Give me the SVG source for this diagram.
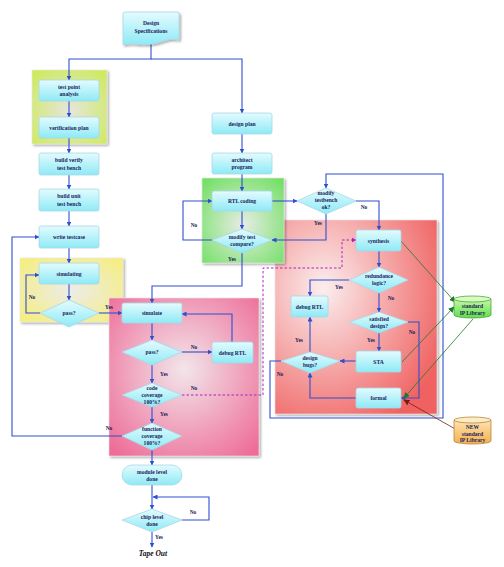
<svg xmlns="http://www.w3.org/2000/svg" width="504" height="567" viewBox="0 0 504 567">
<defs>
<linearGradient id="box" x1="0" y1="0" x2="0" y2="1"><stop offset="0" stop-color="#e4fbfe"/><stop offset="1" stop-color="#8eeaf6"/></linearGradient>
<radialGradient id="rLime" cx="0.5" cy="0.55" r="0.7"><stop offset="0" stop-color="#e6e6dc"/><stop offset="1" stop-color="#cdea5a"/></radialGradient>
<radialGradient id="rYellow" cx="0.5" cy="0.5" r="0.7"><stop offset="0" stop-color="#ececea"/><stop offset="1" stop-color="#f6ee78"/></radialGradient>
<radialGradient id="rGreen" cx="0.5" cy="0.55" r="0.7"><stop offset="0" stop-color="#e8ece6"/><stop offset="1" stop-color="#72e064"/></radialGradient>
<radialGradient id="rPink" cx="0.5" cy="0.45" r="0.7"><stop offset="0" stop-color="#f2e6ea"/><stop offset="1" stop-color="#ee6c98"/></radialGradient>
<radialGradient id="rRed" cx="0.3" cy="0.35" r="0.8"><stop offset="0" stop-color="#fbeeee"/><stop offset="1" stop-color="#f06262"/></radialGradient>
<linearGradient id="cylG" x1="0" y1="0" x2="0" y2="1"><stop offset="0" stop-color="#c8f8a8"/><stop offset="1" stop-color="#5ee04a"/></linearGradient>
<linearGradient id="cylO" x1="0" y1="0" x2="0" y2="1"><stop offset="0" stop-color="#fde3b0"/><stop offset="1" stop-color="#f4b050"/></linearGradient>
<filter id="sh" x="-10%" y="-10%" width="130%" height="130%"><feDropShadow dx="1.5" dy="1.5" stdDeviation="1.2" flood-color="#000" flood-opacity="0.35"/></filter>
<marker id="ab" viewBox="0 0 10 10" refX="9" refY="5" markerWidth="5" markerHeight="5" markerUnits="userSpaceOnUse" orient="auto"><path d="M0,0 L10,5 L0,10 Z" fill="#2f4fd0"/></marker>
<marker id="ag" viewBox="0 0 10 10" refX="9" refY="5" markerWidth="6" markerHeight="6" markerUnits="userSpaceOnUse" orient="auto"><path d="M0,0 L10,5 L0,10 Z" fill="#1e7a2a"/></marker>
<marker id="ar" viewBox="0 0 10 10" refX="9" refY="5" markerWidth="6" markerHeight="6" markerUnits="userSpaceOnUse" orient="auto"><path d="M0,0 L10,5 L0,10 Z" fill="#7a1a10"/></marker>
<marker id="ap" viewBox="0 0 10 10" refX="9" refY="5" markerWidth="5" markerHeight="5" markerUnits="userSpaceOnUse" orient="auto"><path d="M0,0 L10,5 L0,10 Z" fill="#b020c0"/></marker>
<style>
.b{fill:url(#box);stroke:#a6d8e6;stroke-width:0.8}
.t{font-family:"Liberation Serif",serif;font-weight:bold;font-size:5.6px;fill:#1a1a5a;text-anchor:middle}
.l{font-family:"Liberation Serif",serif;font-weight:bold;font-size:5.4px;fill:#1a1a5a;text-anchor:middle}
.c{fill:none;stroke:#2f4fd0;stroke-width:1.1;marker-end:url(#ab)}
.reg{stroke:#e8e8e8;stroke-width:0.6;filter:url(#sh)}
</style>
</defs>
<rect width="504" height="567" fill="#ffffff"/>

<g id="regions">
<rect class="reg" x="32" y="70" width="75" height="74" fill="url(#rLime)"/>
<rect class="reg" x="20" y="258" width="103" height="64" fill="url(#rYellow)"/>
<rect class="reg" x="275" y="220" width="162" height="194" fill="url(#rRed)"/>
<rect class="reg" x="202" y="178" width="82" height="85" fill="url(#rGreen)"/>
<rect class="reg" x="109" y="298" width="150" height="158" fill="url(#rPink)"/>
</g>

<g id="connectors">
<path class="c" d="M151,44 V59 H69 V80"/>
<path class="c" d="M151,59 H242 V113"/>
<path class="c" d="M69,101 V117"/>
<path class="c" d="M69,138 V153"/>
<path class="c" d="M69,175 V189"/>
<path class="c" d="M69,211 V226"/>
<path class="c" d="M69,248 V263"/>
<path class="c" d="M69,284 V300"/>
<path class="c" d="M40,313 H26 V275 H39"/>
<path class="c" d="M99,313 H122"/>
<path class="c" d="M122,436 H12 V237 H39"/>
<path class="c" d="M242,134 V153"/>
<path class="c" d="M242,174 V191"/>
<path class="c" d="M242,211 V229"/>
<path class="c" d="M212,240 H183 V201 H212"/>
<path class="c" d="M242,253 V286 H152 V303"/>
<path class="c" d="M272,201 H297"/>
<path class="c" d="M326,214 V240 H272"/>
<path class="c" d="M356,201 H379 V230"/>
<path class="c" d="M281,361 H270 V418 H443 V174 H326 V188"/>
<path class="c" d="M379,251 V267"/>
<path class="c" d="M349,280 H310 V296"/>
<path class="c" d="M379,293 V312"/>
<path class="c" d="M379,333 V351"/>
<path class="c" d="M408,322 H419 V398 H401"/>
<path class="c" d="M356,361 H340"/>
<path class="c" d="M310,352 V317"/>
<path class="c" d="M356,398 H310 V373"/>
<path class="c" d="M152,323 V340"/>
<path class="c" d="M182,352 H212"/>
<path class="c" d="M232,342 V314 H182"/>
<path class="c" d="M152,365 V383"/>
<path class="c" d="M152,407 V423"/>
<path class="c" d="M152,450 V465"/>
<path class="c" d="M152,485 V509"/>
<path class="c" d="M182,520 H209 V497 H153"/>
<path class="c" d="M152,532 V547"/>
<path d="M182,395 H263 V268 H342 V240 H356" fill="none" stroke="#b020c0" stroke-width="1" stroke-dasharray="2.5,2" marker-end="url(#ap)"/>
<path d="M401,241 L455,302" fill="none" stroke="#1e7a2a" stroke-width="0.8" marker-end="url(#ag)"/>
<path d="M402,362 L454,307" fill="none" stroke="#1e7a2a" stroke-width="0.8" marker-end="url(#ag)"/>
<path d="M473,319 L404,398" fill="none" stroke="#1e7a2a" stroke-width="0.8" marker-end="url(#ag)"/>
<path d="M457,430 L404,400" fill="none" stroke="#7a1a10" stroke-width="0.8" marker-end="url(#ar)"/>
</g>

<g id="labels">
<text class="l" x="109" y="309">Yes</text>
<text class="l" x="32" y="299">No</text>
<text class="l" x="194" y="227">No</text>
<text class="l" x="232" y="261">Yes</text>
<text class="l" x="318" y="225">Yes</text>
<text class="l" x="364" y="209">No</text>
<text class="l" x="339" y="289">Yes</text>
<text class="l" x="391" y="300">No</text>
<text class="l" x="371" y="342">Yes</text>
<text class="l" x="412" y="334">No</text>
<text class="l" x="299" y="342">Yes</text>
<text class="l" x="280" y="376">No</text>
<text class="l" x="194" y="349">No</text>
<text class="l" x="164" y="376">Yes</text>
<text class="l" x="194" y="390">No</text>
<text class="l" x="164" y="416">Yes</text>
<text class="l" x="109" y="430">No</text>
<text class="l" x="193" y="514">No</text>
<text class="l" x="159" y="539">Yes</text>
</g>

<g id="n-spec"><path class="b" d="M125,12 H177 Q179,12 179,14 V40 C168,37 162,43 151,44 C140,46 132,42 123,45 V14 Q123,12 125,12 Z" filter="url(#sh)"/><text class="t" x="151" y="25">Design</text><text class="t" x="151" y="33">Specifications</text></g>
<g id="n-tpa"><rect class="b" x="39" y="80" width="60" height="21" rx="2"/><text class="t" x="69" y="89">test point</text><text class="t" x="69" y="96">analysis</text></g>
<g id="n-vp"><rect class="b" x="39" y="117" width="60" height="21" rx="2"/><text class="t" x="69" y="129.5">verification plan</text></g>
<g id="n-bvt"><rect class="b" x="39" y="153" width="60" height="22" rx="2"/><text class="t" x="69" y="162">build verify</text><text class="t" x="69" y="169.5">test bench</text></g>
<g id="n-but"><rect class="b" x="39" y="189" width="60" height="22" rx="2"/><text class="t" x="69" y="198">build unit</text><text class="t" x="69" y="205.5">test bench</text></g>
<g id="n-wtc"><rect class="b" x="39" y="226" width="60" height="22" rx="2"/><text class="t" x="69" y="239">write testcase</text></g>
<g id="n-siming"><rect class="b" x="39" y="263" width="60" height="21" rx="2"/><text class="t" x="69" y="275.5">simulating</text></g>
<g id="n-pass1"><path class="b" d="M69,300 L99,313 L69,327 L40,313 Z"/><text class="t" x="69" y="315">pass?</text></g>

<g id="n-dp"><rect class="b" x="212" y="113" width="60" height="21" rx="2"/><text class="t" x="242" y="125.5">design plan</text></g>
<g id="n-ap"><rect class="b" x="212" y="153" width="60" height="21" rx="2"/><text class="t" x="242" y="161.5">architect</text><text class="t" x="242" y="169">program</text></g>
<g id="n-rtl"><rect class="b" x="212" y="191" width="60" height="20" rx="2"/><text class="t" x="242" y="203">RTL coding</text></g>
<g id="n-mtc"><path class="b" d="M242,229 L272,240 L242,253 L212,240 Z"/><text class="t" x="242" y="238.5">modify test</text><text class="t" x="242" y="245.5">compare?</text></g>
<g id="n-mtb"><path class="b" d="M326,188 L356,201 L326,214 L297,201 Z"/><text class="t" x="326" y="195">modify</text><text class="t" x="326" y="202">testbench</text><text class="t" x="326" y="209">ok?</text></g>

<g id="n-syn"><rect class="b" x="356" y="230" width="45" height="21" rx="2"/><text class="t" x="378.5" y="242.5">synthesis</text></g>
<g id="n-red"><path class="b" d="M379,267 L408,280 L379,293 L349,280 Z"/><text class="t" x="379" y="278">redundance</text><text class="t" x="379" y="285">logic?</text></g>
<g id="n-dbg2"><rect class="b" x="291" y="296" width="37" height="21" rx="2"/><text class="t" x="309.5" y="308.5">debug RTL</text></g>
<g id="n-sat"><path class="b" d="M379,312 L408,322 L379,333 L349,322 Z"/><text class="t" x="379" y="320.5">satisfied</text><text class="t" x="379" y="327.5">design?</text></g>
<g id="n-sta"><rect class="b" x="356" y="351" width="45" height="21" rx="2"/><text class="t" x="378.5" y="363.5">STA</text></g>
<g id="n-bugs"><path class="b" d="M310,352 L340,361 L310,373 L281,361 Z"/><text class="t" x="310" y="359.5">design</text><text class="t" x="310" y="366.5">bugs?</text></g>
<g id="n-formal"><rect class="b" x="356" y="388" width="45" height="20" rx="2"/><text class="t" x="378.5" y="400">formal</text></g>

<g id="n-lib1"><path d="M454,299 V315 A18.5,3 0 0 0 491,315 V299 Z" fill="url(#cylG)" stroke="#3a9a30" stroke-width="0.7"/><ellipse cx="472.5" cy="299" rx="18.5" ry="3" fill="#d8fcc0" stroke="#3a9a30" stroke-width="0.7"/><text class="t" x="472.5" y="307.5">standard</text><text class="t" x="472.5" y="314.5">IP Library</text></g>
<g id="n-lib2"><path d="M454,420 V441 A18.5,3 0 0 0 491,441 V420 Z" fill="url(#cylO)" stroke="#b07a2a" stroke-width="0.7"/><ellipse cx="472.5" cy="420" rx="18.5" ry="3" fill="#fdebc4" stroke="#b07a2a" stroke-width="0.7"/><text class="t" x="472.5" y="429">NEW</text><text class="t" x="472.5" y="435.5">standard</text><text class="t" x="472.5" y="442">IP Library</text></g>

<g id="n-sim"><rect class="b" x="122" y="303" width="60" height="20" rx="2"/><text class="t" x="152" y="315">simulate</text></g>
<g id="n-pass2"><path class="b" d="M152,340 L182,352 L152,365 L122,352 Z"/><text class="t" x="152" y="354">pass?</text></g>
<g id="n-dbg1"><rect class="b" x="212" y="342" width="41" height="21" rx="2"/><text class="t" x="232.5" y="354.5">debug RTL</text></g>
<g id="n-cc"><path class="b" d="M152,383 L182,395 L152,407 L122,395 Z"/><text class="t" x="152" y="389.5">code</text><text class="t" x="152" y="396.5">coverage</text><text class="t" x="152" y="403.5">100%?</text></g>
<g id="n-fc"><path class="b" d="M152,423 L182,436 L152,450 L122,436 Z"/><text class="t" x="152" y="431">function</text><text class="t" x="152" y="438">coverage</text><text class="t" x="152" y="445">100%?</text></g>
<g id="n-mod"><rect class="b" x="122" y="465" width="60" height="20" rx="10"/><text class="t" x="152" y="473.5">module level</text><text class="t" x="152" y="481">done</text></g>
<g id="n-chip"><path class="b" d="M152,509 L182,520 L152,532 L122,520 Z"/><text class="t" x="152" y="518.5">chip level</text><text class="t" x="152" y="525.5">done</text></g>
<g id="n-tape"><text x="153" y="556" font-family="Liberation Serif,serif" font-weight="bold" font-style="italic" font-size="7.5" fill="#111" text-anchor="middle">Tape Out</text></g>
</svg>
